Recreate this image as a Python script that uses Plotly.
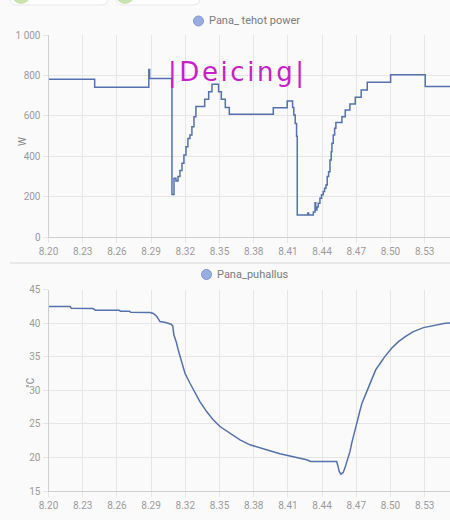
import plotly.graph_objects as go

W, H = 450, 520

# ---- data (x = minutes after 8:20) ----
tick_minutes = [0, 3, 6, 9, 12, 15, 18, 21, 24, 27, 30, 33]
tick_labels = ["8.20", "8.23", "8.26", "8.29", "8.32", "8.35", "8.38", "8.41", "8.44", "8.47", "8.50", "8.53"]

power_min = [0, 4.05, 8.8, 8.87, 10.83, 11.01, 11.18, 11.36, 11.53, 11.71, 11.88, 12.06, 12.23,
             12.41, 12.58, 12.76, 12.93, 13.70, 14.05, 14.34, 14.92, 15.16, 15.51, 15.86, 19.72,
             20.94, 21.41, 21.52, 21.64, 21.76, 21.82, 22.75, 22.82, 23.23, 23.38, 23.44, 23.55,
             23.66, 23.81, 23.95, 24.10, 24.22, 24.34, 24.45, 24.57, 24.69, 24.80, 24.86, 24.98,
             25.10, 25.21, 25.74, 26.03, 26.44, 26.91, 27.43, 27.96, 30.01, 33.05, 35.5]
power_w = [781, 742, 830, 785, 211, 292, 278, 300, 330, 366, 407, 448, 489,
           506, 547, 596, 646, 682, 720, 756, 720, 682, 642, 608, 641,
           674, 642, 605, 563, 500, 110, 120, 110, 125, 171, 135, 150,
           168, 193, 210, 226, 242, 259, 300, 324, 382, 423, 465, 506,
           539, 567, 596, 629, 659, 692, 728, 766, 804, 746, 746]

temp_min = [0, 1.9, 2.0, 3.9, 4.1, 6.2, 6.3, 7.1, 7.2, 8.0, 8.1, 8.9, 9.2, 9.5, 9.78, 10.2,
            10.75, 10.9, 11.0, 11.2, 11.38, 11.67, 11.97, 12.41, 12.85, 13.28, 13.87, 14.45,
            15.04, 15.92, 16.8, 17.67, 18.55, 19.42, 20.3, 21.17, 22.05, 22.64, 23.0, 25.28,
            25.4, 25.5, 25.65, 25.85, 26.0, 26.15, 26.3, 26.45, 26.6, 26.74, 26.88, 27.12,
            27.3, 27.5, 27.8, 28.1, 28.4, 28.7, 29.1, 29.5, 30.1, 30.7, 31.3, 32.0, 32.9,
            33.9, 34.8, 35.5]
temp_c = [42.5, 42.5, 42.25, 42.2, 41.95, 41.95, 41.8, 41.8, 41.65, 41.65, 41.6, 41.6, 41.45,
          41.0, 40.25, 40.15, 39.85, 39.6, 38.25, 37.26, 36.02, 34.29, 32.55, 31.06, 29.57,
          28.33, 26.84, 25.6, 24.61, 23.62, 22.63, 21.88, 21.39, 20.99, 20.55, 20.25, 19.9,
          19.65, 19.4, 19.4, 18.66, 17.92, 17.52, 17.77, 18.41, 19.16, 19.9, 20.9, 22.13,
          23.13, 24.36, 25.6, 26.84, 28.09, 29.33, 30.57, 32.05, 33.05, 34.04, 35.03, 36.27,
          37.26, 38.0, 38.75, 39.35, 39.74, 39.99, 40.04]

power_ticks = [0, 200, 400, 600, 800, 1000]
power_tick_text = ["0", "200", "400", "600", "800", "1 000"]
temp_ticks = [15, 20, 25, 30, 35, 40, 45]

LINE = "#5471ad"
GRID = "#e6e6e6"
AXIS = "#cfcfcf"
TICKF = dict(family="Roboto", size=10, color="#9a9a9a")


def px(x):
    return x / W


def py(y):
    return 1 - y / H


fig = go.Figure()
fig.add_trace(go.Scatter(x=power_min, y=power_w, mode="lines", line=dict(color=LINE, width=1.5, shape="hv"),
                         xaxis="x", yaxis="y", showlegend=False, hoverinfo="skip"))
fig.add_trace(go.Scatter(x=temp_min, y=temp_c, mode="lines", line=dict(color=LINE, width=1.5),
                         xaxis="x2", yaxis="y2", showlegend=False, hoverinfo="skip"))

xcommon = dict(range=[0, 35.22], tickvals=tick_minutes, ticktext=tick_labels, showgrid=True,
               gridcolor=GRID, gridwidth=1, showline=True, linecolor=AXIS, linewidth=1,
               ticks="outside", ticklen=5, tickcolor=GRID, tickfont=TICKF, zeroline=False,
               domain=[px(48.5), 1.0], fixedrange=True, automargin=False)
ycommon = dict(showgrid=True, gridcolor=GRID, gridwidth=1, showline=True, linecolor=AXIS,
               linewidth=1, ticks="outside", ticklen=5, tickcolor=GRID, tickfont=TICKF,
               zeroline=False, fixedrange=True, automargin=False)

fig.update_layout(
    width=W, height=H, margin=dict(l=0, r=0, t=0, b=0, pad=0, autoexpand=False),
    paper_bgcolor="#fafafa", plot_bgcolor="#fafafa",
    xaxis=dict(**xcommon, anchor="y"),
    yaxis=dict(**ycommon, range=[0, 1000], tickvals=power_ticks, ticktext=power_tick_text,
               domain=[py(237.3), py(35)], anchor="x"),
    xaxis2=dict(**xcommon, anchor="y2"),
    yaxis2=dict(**ycommon, range=[15, 45], tickvals=temp_ticks,
                domain=[py(491), py(289.7)], anchor="x2"),
    showlegend=False,
)

shapes = []
annotations = []

# top cards (partially visible)
def rounded_rect(x0, x1, y0, y1, r):
    X0, X1 = px(x0), px(x1)
    Y0, Y1 = py(y0), py(y1)
    rx, ry = r / W, r / H
    return (f"M {X0+rx},{Y0} L {X1-rx},{Y0} Q {X1},{Y0} {X1},{Y0-ry} "
            f"L {X1},{Y1+ry} Q {X1},{Y1} {X1-rx},{Y1} L {X0+rx},{Y1} Q {X0},{Y1} {X0},{Y1+ry} "
            f"L {X0},{Y0-ry} Q {X0},{Y0} {X0+rx},{Y0} Z")

for (a, b, cx) in [(10, 108, 21), (116, 200, 125)]:
    shapes.append(dict(type="path", path=rounded_rect(a, b, -20, 5, 7), xref="paper", yref="paper",
                       fillcolor="#ffffff", line=dict(color="#e8e8e8", width=1), layer="above"))
    shapes.append(dict(type="circle", xref="paper", yref="paper", x0=px(cx - 9), x1=px(cx + 9),
                       y0=py(4), y1=py(-14), fillcolor="#c8e2ad", line=dict(width=0), layer="above"))

# legends
for (cx, cy, tx, text) in [(198.5, 21, 207, "Pana_ tehot power"), (206.5, 274.5, 215, "Pana_puhallus")]:
    shapes.append(dict(type="circle", xref="paper", yref="paper", x0=px(cx - 5), x1=px(cx + 5),
                       y0=py(cy + 5), y1=py(cy - 5), fillcolor="#98ade2",
                       line=dict(color="#7f97d2", width=1), layer="above"))
    annotations.append(dict(x=px(tx), y=py(cy), xref="paper", yref="paper", text=text, showarrow=False,
                            xanchor="left", yanchor="middle", font=dict(family="Roboto", size=11, color="#7a7a7a")))

# separator
shapes.append(dict(type="line", xref="paper", yref="paper", x0=px(10), x1=1, y0=py(263), y1=py(263),
                   line=dict(color="#e2e2e2", width=1.5)))

# axis titles
annotations.append(dict(x=px(15), y=py(135), xref="paper", yref="paper", text="W", showarrow=False,
                        textangle=-90, font=dict(family="Roboto", size=10, color="#8a8a8a")))
annotations.append(dict(x=px(23), y=py(390), xref="paper", yref="paper", text="°C", showarrow=False,
                        textangle=-90, font=dict(family="Roboto", size=10, color="#8a8a8a")))

# handwritten note
note = "\u200a".join("|Deicing|")
annotations.append(dict(x=px(236), y=py(55), xref="paper", yref="paper", text=note, showarrow=False,
                        font=dict(family="DejaVu Sans", size=26, color="#c81fc8")))

fig.update_layout(shapes=shapes, annotations=annotations)
fig.write_html("out.html", config={"displayModeBar": False},
               post_script="document.body.style.margin='0';document.body.style.overflow='hidden';"
                           "document.body.style.background='#fafafa';")
